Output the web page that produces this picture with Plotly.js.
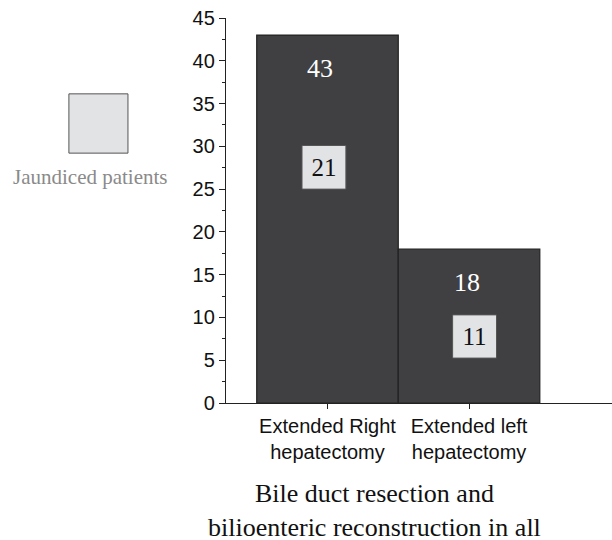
<!DOCTYPE html>
<html><head><meta charset="utf-8">
<script src="https://cdn.plot.ly/plotly-3.0.1.min.js"></script>
<style>html,body{margin:0;padding:0;background:#fff}</style>
</head><body>
<div id="chart" style="width:612px;height:540px"></div>
<script>
const categories = ["Extended Right<br>hepatectomy", "Extended left<br>hepatectomy"];
const totals = [43, 18];
const jaundiced = [21, 11];
const jaundicedBoxBase = [25, 5.25];
const jaundicedBoxHeight = [5.1, 5.05];
const yTicks = [0, 5, 10, 15, 20, 25, 30, 35, 40, 45];
const legendLabel = "Jaundiced patients";
const titleLines = ["Bile duct resection and", "bilioenteric reconstruction in all"];

const xIdx = categories.map((c, i) => i);
const boxShift = [-0.025, 0.039];
const labelShift = [-0.053, -0.015];
const serif = "Liberation Serif, Times New Roman, serif";
const sans = "Liberation Sans, Arial, sans-serif";

const traces = [
  {
    type: "bar", x: xIdx, y: totals, width: 1,
    marker: {color: "#404042", line: {color: "#222222", width: 1.2}},
    hoverinfo: "none", showlegend: false
  },
  {
    type: "bar", x: xIdx.map(i => i + boxShift[i]), y: jaundicedBoxHeight, base: jaundicedBoxBase, width: 0.31,
    marker: {color: "#e2e3e5", line: {color: "#555555", width: 1}},
    text: jaundiced.map(String), textposition: "inside", insidetextanchor: "middle",
    textfont: {family: serif, size: 25, color: "#111111"},
    hoverinfo: "none", showlegend: false
  }
];

const annotations = totals.map((v, i) => ({
  x: i + labelShift[i], y: v, xref: "x", yref: "y", yshift: -33, text: String(v), showarrow: false,
  font: {family: serif, size: 26, color: "#ffffff"}
}));
annotations.push({
  xref: "paper", yref: "paper", x: -0.351, y: 0.587, xanchor: "center", yanchor: "middle",
  text: legendLabel, showarrow: false,
  font: {family: serif, size: 21, color: "#8a8a8a"}
});
annotations.push({
  xref: "paper", yref: "paper", x: 0.386, y: -0.193, xanchor: "center", yanchor: "top",
  text: titleLines.join("<br>"), showarrow: false, align: "center",
  font: {family: serif, size: 26, color: "#111111"}
});

const layout = {
  width: 612, height: 540,
  margin: {l: 226, r: 0, t: 18, b: 137},
  paper_bgcolor: "#ffffff", plot_bgcolor: "#ffffff",
  barmode: "overlay", bargap: 0,
  showlegend: false,
  xaxis: {
    range: [-0.717, 2.01], tickvals: xIdx, ticktext: categories,
    showline: true, linecolor: "#222222", linewidth: 1.2,
    ticks: "outside", ticklen: 5, tickcolor: "#222222", showgrid: false, zeroline: false,
    tickfont: {family: sans, size: 20, color: "#111111"},
    fixedrange: true
  },
  yaxis: {
    range: [0, 45], tickvals: yTicks,
    showline: true, linecolor: "#222222", linewidth: 1.2,
    ticks: "outside", ticklen: 6, tickcolor: "#222222", showgrid: false, zeroline: false,
    minor: {dtick: 2.5, ticks: "outside", ticklen: 3, tickcolor: "#222222", showgrid: false},
    tickfont: {family: sans, size: 20, color: "#111111"},
    fixedrange: true
  },
  shapes: [{
    type: "rect", xref: "paper", yref: "paper",
    x0: -0.407, x1: -0.254, y0: 0.649, y1: 0.803,
    fillcolor: "#e2e3e5", line: {color: "#555555", width: 1}
  }],
  annotations: annotations
};

Plotly.newPlot("chart", traces, layout, {displayModeBar: false, staticPlot: true});
</script>
</body></html>
